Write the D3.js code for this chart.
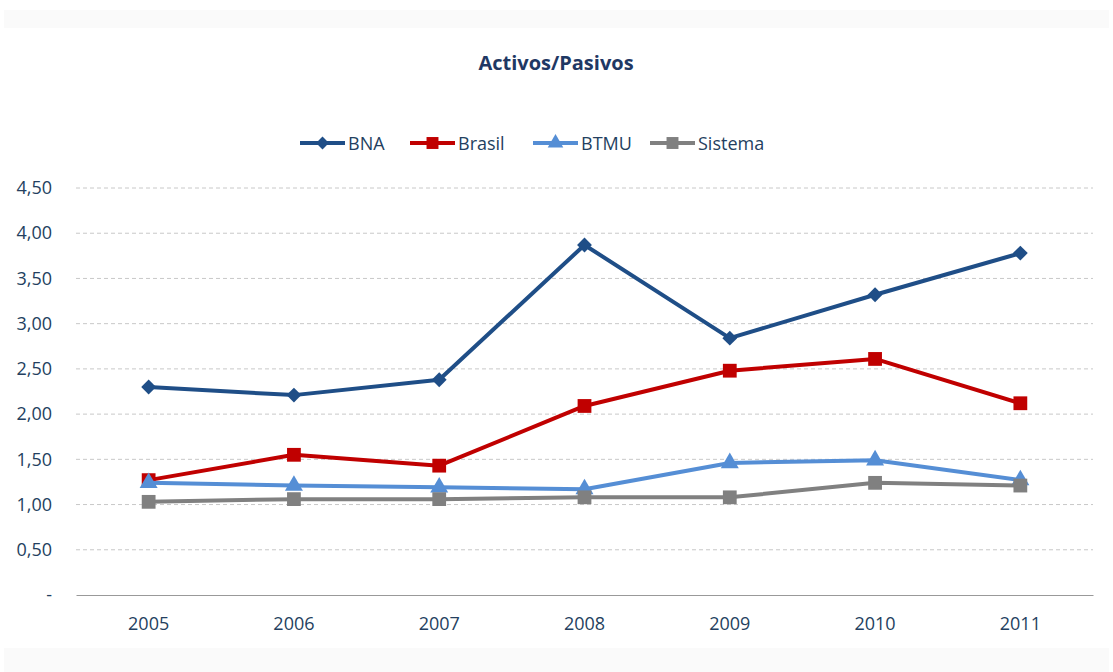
<!DOCTYPE html>
<html>
<head>
<meta charset="utf-8">
<script src="https://cdn.jsdelivr.net/npm/d3@7"></script>
<style>
  body { margin: 0; background: #fff; }
  text { font-family: "Open Sans", sans-serif; }
</style>
</head>
<body>
<div id="chart"></div>
<script>
// data
const years = ["2005", "2006", "2007", "2008", "2009", "2010", "2011"]
const seriesNames = ["BNA", "Brasil", "BTMU", "Sistema"]
const bna = [2.30, 2.21, 2.38, 3.87, 2.84, 3.32, 3.78]
const brasil = [1.27, 1.55, 1.43, 2.09, 2.48, 2.61, 2.12]
const btmu = [1.24, 1.21, 1.19, 1.17, 1.46, 1.49, 1.27]
const sistema = [1.03, 1.06, 1.06, 1.08, 1.08, 1.24, 1.21]
const yTicks = [0, 0.5, 1, 1.5, 2, 2.5, 3, 3.5, 4, 4.5]

const colors = ["#1f4e87", "#c00000", "#558ed5", "#808080"]
const symbols = [d3.symbolSquare, d3.symbolSquare, d3.symbolTriangle, d3.symbolSquare]
const rotations = [45, 0, 0, 0]
const allValues = [bna, brasil, btmu, sistema]

const W = 1113, H = 672
const margin = {top: 188, right: 20, bottom: 77, left: 76},
    width = 1093 - margin.left,
    height = 595 - margin.top

const root = d3.select("#chart").append("svg")
    .attr("width", W)
    .attr("height", H)

// faint bands top and bottom
root.append("rect").attr("x", 4).attr("y", 10).attr("width", W - 8).attr("height", 18).attr("fill", "#fafafa")
root.append("rect").attr("x", 4).attr("y", 648).attr("width", W - 8).attr("height", 24).attr("fill", "#fafafa")

root.append("text")
    .attr("x", 556).attr("y", 70)
    .attr("text-anchor", "middle")
    .attr("font-size", 20).attr("font-weight", "bold")
    .attr("fill", "#1f3864")
    .text("Activos/Pasivos")

const svg = root.append("g")
    .attr("transform", `translate(${margin.left}, ${margin.top})`)

const x = d3.scaleBand().domain(years).range([0, width])
const y = d3.scaleLinear().domain([0, 4.5]).range([height, 0])

// grid
svg.append("g")
  .selectAll("line")
  .data(yTicks.filter(t => t > 0))
  .join("line")
    .attr("x1", 0).attr("x2", width)
    .attr("y1", d => y(d)).attr("y2", d => y(d))
    .attr("stroke", "#c8c8c8")
    .attr("stroke-dasharray", "4,3")

// y axis
const fmt = d => d === 0 ? "-" : d3.format(".2f")(d).replace(".", ",")
const yAxis = svg.append("g")
    .call(d3.axisLeft(y).tickValues(yTicks).tickFormat(fmt).tickSize(0).tickPadding(24))
yAxis.select(".domain").remove()
yAxis.selectAll("text").attr("font-size", 18).attr("fill", "#243f60")
    .attr("font-family", "Open Sans, sans-serif")

// x axis
const xAxis = svg.append("g")
    .attr("transform", `translate(0, ${height})`)
    .call(d3.axisBottom(x).tickSize(0).tickPadding(22))
xAxis.select(".domain").attr("stroke", "#999").attr("stroke-width", 1.2)
xAxis.selectAll("text").attr("font-size", 18).attr("fill", "#243f60")
    .attr("font-family", "Open Sans, sans-serif")

// lines
const line = d3.line()
    .x((d, i) => x(years[i]) + x.bandwidth() / 2)
    .y(d => y(d))

const markerSize = [110, 190, 140, 190]

allValues.forEach((vals, s) => {
  svg.append("path")
    .datum(vals)
    .attr("fill", "none")
    .attr("stroke", colors[s])
    .attr("stroke-width", 4)
    .attr("stroke-linejoin", "round")
    .attr("d", line)

  svg.selectAll(".m" + s)
    .data(vals)
    .join("path")
      .attr("class", "m" + s)
      .attr("transform", (d, i) => `translate(${x(years[i]) + x.bandwidth() / 2}, ${y(d)}) rotate(${rotations[s]})`)
      .attr("d", d3.symbol().type(symbols[s]).size(markerSize[s]))
      .attr("fill", colors[s])
})

// legend
const legendX = [300, 410, 533, 650]
const legend = root.append("g")
seriesNames.forEach((name, s) => {
  const g = legend.append("g").attr("transform", `translate(${legendX[s]}, 143)`)
  g.append("line").attr("x1", 0).attr("x2", 45).attr("y1", 0).attr("y2", 0)
    .attr("stroke", colors[s]).attr("stroke-width", 4)
  g.append("path").attr("transform", `translate(22.5,0) rotate(${rotations[s]})`)
    .attr("d", d3.symbol().type(symbols[s]).size(markerSize[s] * 0.75))
    .attr("fill", colors[s])
  g.append("text").attr("x", 48).attr("y", 7)
    .attr("font-size", 18).attr("fill", "#243f60")
    .text(name)
})
</script>
</body>
</html>
